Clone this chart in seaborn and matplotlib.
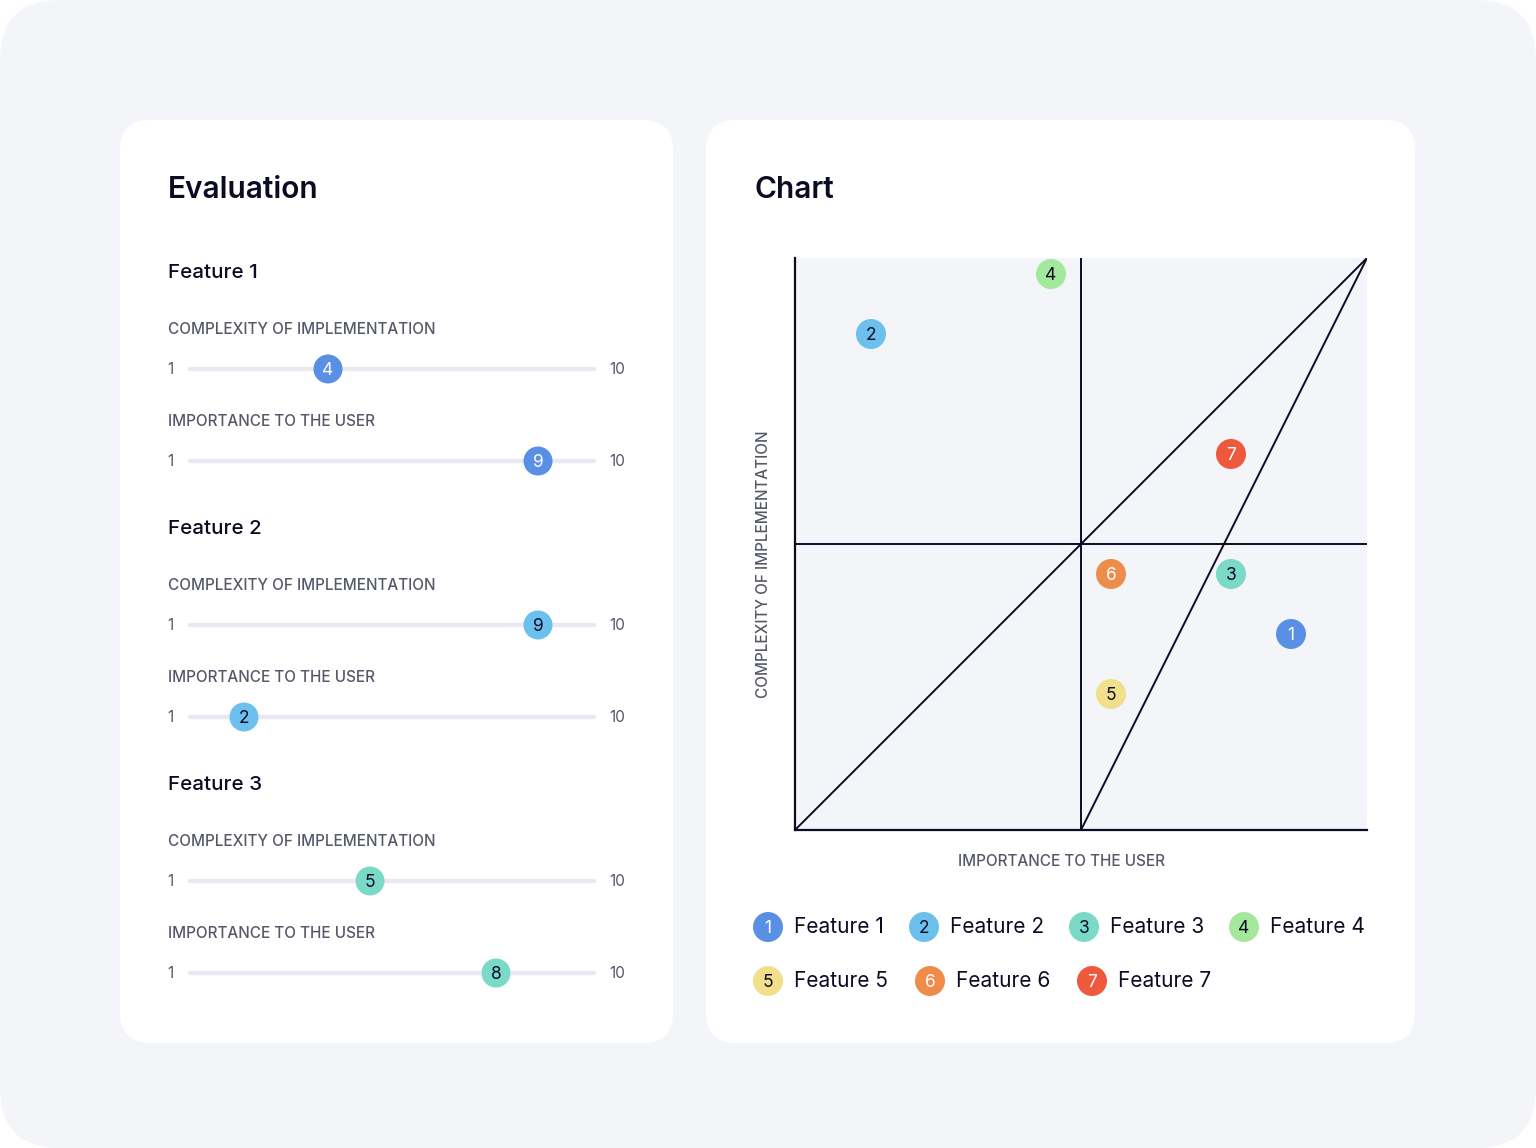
import matplotlib
matplotlib.use("Agg")
import matplotlib.pyplot as plt
from matplotlib.patches import FancyBboxPatch
import seaborn as sns
import pandas as pd

sns.set_theme(style="white")
plt.rcParams['font.family'] = ['Inter', 'DejaVu Sans']

# ---------------- data ----------------
features = ["Feature 1", "Feature 2", "Feature 3", "Feature 4", "Feature 5", "Feature 6", "Feature 7"]
numbers = ["1", "2", "3", "4", "5", "6", "7"]
importance = [9, 2, 8, 5, 6, 6, 8]
complexity = [4, 9, 5, 10, 3, 5, 7]
colors = ["#5a8fe6", "#6cc0ee", "#7bd9c8", "#a4e89e", "#f1df8b", "#ee8c4b", "#ee583d"]
num_colors = ["white", "#0b0b24", "#0b0b24", "#0b0b24", "#0b0b24", "white", "white"]

eval_features = ["Feature 1", "Feature 2", "Feature 3"]
eval_complexity = [4, 9, 5]
eval_importance = [9, 2, 8]
slider_min, slider_max = 1, 10

df = pd.DataFrame({"feature": features, "importance": importance,
                   "complexity": complexity, "num": numbers})

W, H = 1536, 1148
fig = plt.figure(figsize=(W / 100, H / 100), dpi=100)
fig.patch.set_facecolor("white")

def fx(px):
    return px / W

def fy(py):
    return 1 - py / H

bg = fig.add_axes([0, 0, 1, 1])
bg.set_xlim(0, W)
bg.set_ylim(H, 0)
bg.axis("off")
bg.set_zorder(-5)

def card(x0, y0, x1, y1, r, color):
    p = FancyBboxPatch((x0 + r, y0 + r), (x1 - x0) - 2 * r, (y1 - y0) - 2 * r,
                       boxstyle=f"round,pad={r}", fc=color, ec="none")
    bg.add_patch(p)

card(0, 0, W, H, 60, "#f4f5f8")
card(120, 120, 673, 1043, 30, "white")
card(706, 120, 1415, 1043, 30, "white")

DARK = "#0b0b24"
GREY = "#55586a"

bg.text(168, 190, "Evaluation", fontsize=21.5, fontweight="semibold", color=DARK, va="center", ha="left")
bg.text(754, 190, "Chart", fontsize=21.5, fontweight="semibold", color=DARK, va="center", ha="left")

def num_label(a, x, y, s, color):
    a.annotate(s, (x, y), xytext=(0, -0.8), textcoords="offset points", fontsize=12.5,
               color=color, ha="center", va="center", zorder=4, annotation_clip=False)

# ---------------- sliders ----------------
heading_y = [273, 529, 785]
knob_px = 29
for i, name in enumerate(eval_features):
    hy = heading_y[i]
    bg.text(168, hy, name, fontsize=14.8, fontweight="medium", color=DARK, va="center", ha="left")
    rows = [("COMPLEXITY OF IMPLEMENTATION", eval_complexity[i], hy + 56, hy + 96),
            ("IMPORTANCE TO THE USER", eval_importance[i], hy + 148, hy + 188)]
    for label, val, ly, ty in rows:
        bg.text(168, ly, label, fontsize=11, fontweight="medium", color=GREY, va="center", ha="left")
        bg.text(167, ty, str(slider_min), fontsize=11, color=GREY, va="center", ha="left")
        bg.text(609, ty, str(slider_max), fontsize=11, color=GREY, va="center", ha="left")
        sax = fig.add_axes([fx(202), fy(ty + 15), fx(580) - fx(202), 30 / H])
        sax.set_xlim(slider_min, slider_max)
        sax.set_ylim(-1, 1)
        sax.axis("off")
        sax.patch.set_alpha(0)
        sax.plot([-0.032, 1.037], [0.5, 0.5], transform=sax.transAxes, color="#e8e9f3",
                 lw=3.2, solid_capstyle="round", clip_on=False, zorder=1)
        sns.scatterplot(x=[val], y=[0], ax=sax, s=(knob_px * 0.72) ** 2,
                        color=colors[i], edgecolor="none", legend=False, zorder=3, clip_on=False)
        num_label(sax, val, 0, str(val), num_colors[i] if i != 0 else "white")

# ---------------- chart ----------------
ax = fig.add_axes([fx(795), fy(830), fx(1367) - fx(795), (830 - 258) / H])
half = 286 / 60
ax.set_xlim(5.5 - half, 5.5 + half)
ax.set_ylim(5.5 - half, 5.5 + half)
ax.set_facecolor("#f4f5f8")
for s in ["top", "right"]:
    ax.spines[s].set_visible(False)
for s in ["left", "bottom"]:
    ax.spines[s].set_color(DARK)
    ax.spines[s].set_linewidth(1.6)
ax.set_xticks([])
ax.set_yticks([])
ax.axvline(5.5, color=DARK, lw=1.4, zorder=1)
ax.axhline(5.5, color=DARK, lw=1.4, zorder=1)
ax.plot([0, 1], [0, 1], transform=ax.transAxes, color=DARK, lw=1.4, zorder=1)
ax.plot([0.5, 1], [0, 1], transform=ax.transAxes, color=DARK, lw=1.4, zorder=1)

sns.scatterplot(data=df, x="importance", y="complexity", hue="feature",
                palette=colors, s=(30 * 0.72) ** 2, edgecolor="none",
                legend=False, ax=ax, zorder=3, clip_on=False)
for _, r in df.iterrows():
    num_label(ax, r["importance"], r["complexity"], r["num"], num_colors[int(r["num"]) - 1])
ax.set_xlabel("")
ax.set_ylabel("")

bg.text(1062, 862, "IMPORTANCE TO THE USER", fontsize=11, fontweight="medium", color=GREY, ha="center", va="center")
bg.text(764, 564, "COMPLEXITY OF IMPLEMENTATION", fontsize=11, fontweight="medium", color=GREY,
        ha="center", va="center", rotation=90)

# ---------------- legend ----------------
leg_rows = [[0, 1, 2, 3], [4, 5, 6]]
leg_x = [[768, 924, 1084, 1244], [768, 930, 1092]]
leg_y = [927, 981]
for row, xs, y in zip(leg_rows, leg_x, leg_y):
    for k, x in zip(row, xs):
        bg.scatter([x], [y], s=(30 * 0.72) ** 2, color=colors[k], edgecolor="none", zorder=3)
        bg.annotate(numbers[k], (x, y), xytext=(0, -0.8), textcoords="offset points",
                    fontsize=12.5, color=num_colors[k], ha="center", va="center", zorder=4)
        bg.text(x + 26, y, features[k], fontsize=15, color=DARK, ha="left", va="center")

fig.savefig("out.png", dpi=100)
